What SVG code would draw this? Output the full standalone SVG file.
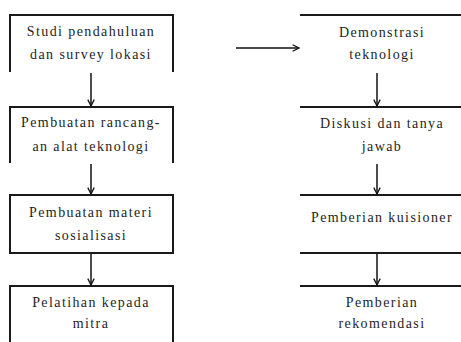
<svg xmlns="http://www.w3.org/2000/svg" width="461" height="342" viewBox="0 0 461 342">
<defs>
<style>
.b{fill:none;stroke:#1a1a1a;stroke-width:2}
.c{fill:none;stroke:#111;stroke-width:1.5}
text{font-family:"Liberation Serif","Times New Roman",serif;font-size:14px;fill:#1e1e1e;text-anchor:middle;letter-spacing:1.4px}
</style>
<marker id="ah" viewBox="0 0 10 10" refX="9" refY="5" markerWidth="8" markerHeight="8" markerUnits="userSpaceOnUse" orient="auto">
<path d="M1,1 L9,5 L1,9" fill="none" stroke="#111" stroke-width="1.6"/>
</marker>
</defs>
<rect width="461" height="342" fill="#fff"/>
<g id="n1"><path class="b" d="M10,72 V15 H173 V72"/><text x="91" y="36">Studi pendahuluan</text><text x="91" y="59">dan survey lokasi</text></g>
<g id="n2"><path class="b" d="M10,163 V107 H173 V163"/><text x="91" y="127">Pembuatan rancang-</text><text x="91" y="151">an alat teknologi</text></g>
<g id="n3"><path class="b" d="M10,253 V195 H173 V253 Z"/><text x="91" y="217">Pembuatan materi</text><text x="91" y="240">sosialisasi</text></g>
<g id="n4"><path class="b" d="M10,345 V286 H173 V345"/><text x="91" y="307">Pelatihan kepada</text><text x="91" y="328">mitra</text></g>
<g id="n5"><path class="b" d="M300,15 H463"/><text x="382" y="37">Demonstrasi</text><text x="382" y="59">teknologi</text></g>
<g id="n6"><path class="b" d="M300,107 H463"/><text x="382" y="128">Diskusi dan tanya</text><text x="382" y="151">jawab</text></g>
<g id="n7"><path class="b" d="M300,195 H463"/><text x="382" y="222">Pemberian kuisioner</text></g>
<g id="n8"><path class="b" d="M300,253 H463 M300,286 H463"/><text x="382" y="307">Pemberian</text><text x="382" y="328">rekomendasi</text></g>
<g id="connectors">
<line class="c" x1="91" y1="73" x2="91" y2="106" marker-end="url(#ah)"/>
<line class="c" x1="91" y1="164" x2="91" y2="194" marker-end="url(#ah)"/>
<line class="c" x1="91" y1="254" x2="91" y2="285" marker-end="url(#ah)"/>
<line class="c" x1="236" y1="48" x2="299" y2="48" marker-end="url(#ah)"/>
<line class="c" x1="377" y1="73" x2="377" y2="106" marker-end="url(#ah)"/>
<line class="c" x1="377" y1="164" x2="377" y2="194" marker-end="url(#ah)"/>
<line class="c" x1="377" y1="254" x2="377" y2="285" marker-end="url(#ah)"/>
</g>
</svg>
